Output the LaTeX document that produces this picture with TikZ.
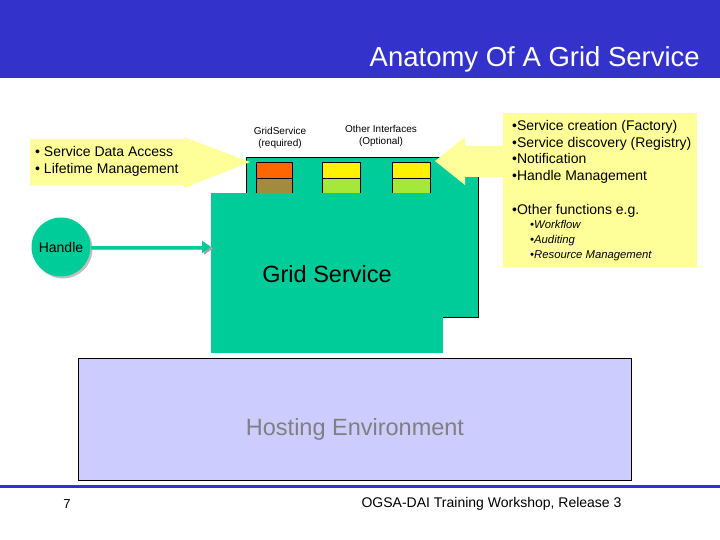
\documentclass[tikz,border=0pt]{standalone}
\usepackage{fontspec}
\setmainfont{Liberation Sans}
\usetikzlibrary{shapes.arrows,arrows.meta}
\definecolor{hdr}{HTML}{3333CC}
\definecolor{gs}{HTML}{00CC99}
\definecolor{ly}{HTML}{FFFF99}
\definecolor{he}{HTML}{CCCCFF}
\definecolor{ibr}{HTML}{A08C3C}
\definecolor{igr}{HTML}{A6E83A}
\definecolor{ior}{HTML}{FF6600}
\begin{document}
\begin{tikzpicture}[x=1pt,y=-1pt,
  txt/.style={inner sep=0pt,anchor=west,align=left},
  ibox/.style={draw=black,line width=0.6pt,inner sep=0pt,anchor=north west}]
\useasboundingbox (0,0) rectangle (720,540);
\fill[hdr] (0,0) rectangle (720,78);
\node[txt,text=white,font=\fontsize{27.5}{30}\selectfont,anchor=east] (title) at (700,59) {Anatomy Of A Grid Service};
% hosting
\node[draw=black,fill=he,minimum width=553pt,minimum height=122pt,inner sep=0pt,anchor=north west] (host) at (78,358) {};
\node[text=gray,font=\fontsize{23.5}{26}\selectfont] (hostt) at (355,429) {Hosting Environment};
% back service
\fill[gs] (246,157) rectangle (478,317);
\draw[line width=0.8pt] (246,193) -- (246,157) -- (478,157) -- (478,317) -- (443,317);
% interfaces
\node[ibox,fill=ior,minimum width=36pt,minimum height=16pt] (i1) at (256,162) {};
\node[ibox,fill=ibr,minimum width=36pt,minimum height=15pt] (i1b) at (256,178) {};
\node[ibox,fill=yellow,minimum width=38pt,minimum height=16pt] (i2) at (322,162) {};
\node[ibox,fill=igr,minimum width=38pt,minimum height=15pt] (i2b) at (322,178) {};
\node[ibox,fill=yellow,minimum width=38pt,minimum height=16pt] (i3) at (392,162) {};
\node[ibox,fill=igr,minimum width=38pt,minimum height=15pt] (i3b) at (392,178) {};
% front service
\node[fill=gs,minimum width=232pt,minimum height=160pt,inner sep=0pt,anchor=north west] (gsf) at (211,193) {};
\node[font=\fontsize{23.5}{26}\selectfont] (gst) at (327,274) {Grid Service};
% labels
\node[font=\fontsize{10}{12}\selectfont,align=center] (l1) at (280,138) {GridService\\(required)};
\node[font=\fontsize{10}{12}\selectfont,align=center] (l2) at (381,136) {Other Interfaces\\(Optional)};
% left arrow
\fill[ly] (30,139) -- (184,139) -- (184,137) -- (250,162) -- (184,188) -- (184,185) -- (30,185) -- cycle;
\node[txt,font=\fontsize{14}{17}\selectfont] (lt) at (35,161) {\textbullet{} Service Data Access\\\textbullet{} Lifetime Management};
% right arrow
\fill[ly] (503,113) rectangle (697,267);
\fill[ly] (505,146) -- (465,146) -- (465,137) -- (435,161) -- (465,185) -- (465,177) -- (505,177) -- cycle;
\node[txt,font=\fontsize{14}{16.7}\selectfont,anchor=north west] (rt) at (512,120) {\textbullet Service creation (Factory)\\\textbullet Service discovery (Registry)\\\textbullet Notification\\\textbullet Handle Management};
\node[txt,font=\fontsize{14}{14}\selectfont,anchor=north west] (rt2) at (512,204) {\textbullet Other functions e.g.};
\node[txt,font=\itshape\fontsize{11.3}{15}\selectfont,anchor=north west] (rt3) at (530,220) {\textbullet Workflow\\\textbullet Auditing\\\textbullet Resource Management};
% handle
\node[circle,fill=gray!50,minimum size=59pt,inner sep=0pt] at (63,249) {};
\node[circle,fill=gs,minimum size=59pt,inner sep=0pt,font=\fontsize{14}{16}\selectfont] (h) at (61,247) {Handle};
\draw[gray!70,line width=3pt,-{Triangle[length=9pt,width=12pt]}] ([yshift=-1.5pt]h.east) -- ([shift={(2,1.5)}]gsf.west |- h.east);
\draw[gs,line width=3pt,-{Triangle[length=9pt,width=12pt]}] (h.east) -- (gsf.west |- h.east);
% footer
\draw[hdr,line width=3pt] (0,486) -- (720,486);
\node[font=\fontsize{13}{15}\selectfont] (pg) at (67,504) {7};
\node[font=\fontsize{14}{16}\selectfont,anchor=east] (ft) at (625,504) {OGSA-DAI Training Workshop, Release 3};
\end{tikzpicture}
\end{document}
